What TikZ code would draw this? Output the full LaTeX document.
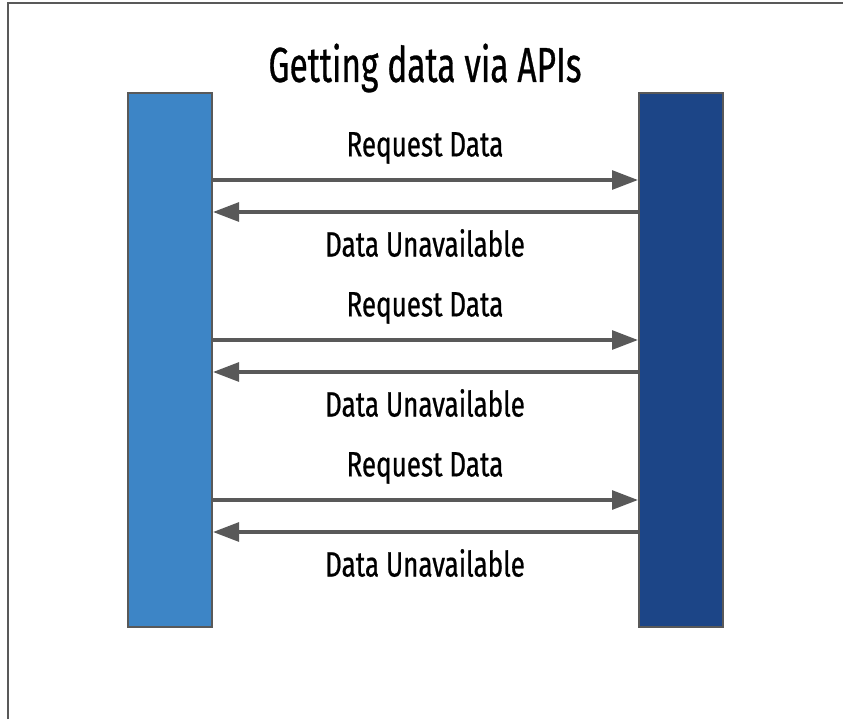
\documentclass[tikz,border=0pt]{standalone}
\usepackage{fontspec}
\setmainfont{Fira Sans}[FakeStretch=0.68,FakeBold=0.6]
\newfontfamily\lblfont{Fira Sans}[FakeStretch=0.74,FakeBold=0.6]
\usetikzlibrary{arrows.meta}
\definecolor{linegray}{HTML}{595959}
\definecolor{clientblue}{HTML}{3D85C6}
\definecolor{serverblue}{HTML}{1C4587}
\tikzset{
  lane/.style={draw=linegray,line width=1.4pt,inner sep=0pt,
    minimum width=2.1cm,minimum height=13.35cm},
  msg/.style={draw=linegray,line width=2.5pt,
    -{Triangle[length=0.65cm,width=0.47cm]}},
  lbl/.style={font=\lblfont\fontsize{25}{28}\selectfont,inner sep=0pt}
}

\begin{document}
\begin{tikzpicture}[x=0.025cm,y=-0.025cm]
  \useasboundingbox (0,0) rectangle (843,719);
  % frame (only top and left edges show)
  \draw[linegray,line width=2.1pt] (8,719) -- (8,3) -- (843,3);

  \node[font=\fontsize{35}{40}\selectfont] (title) at (425,68) {Getting data via APIs};
  \node[lane,fill=clientblue] (client) at (170,360) {};
  \node[lane,fill=serverblue] (server) at (681,360) {};

  \foreach \i in {0,1,2}{
    \coordinate (req\i) at (0,180+160*\i);
    \coordinate (ans\i) at (0,212+160*\i);
    \draw[msg] (client.east |- req\i) -- (server.west |- req\i);
    \draw[msg] (server.west |- ans\i) -- (client.east |- ans\i);
    \node[lbl] (reqlbl\i) at (425,148+160*\i) {Request Data};
    \node[lbl] (anslbl\i) at (425,243+160*\i) {Data Unavailable};
  }
\end{tikzpicture}
\end{document}
